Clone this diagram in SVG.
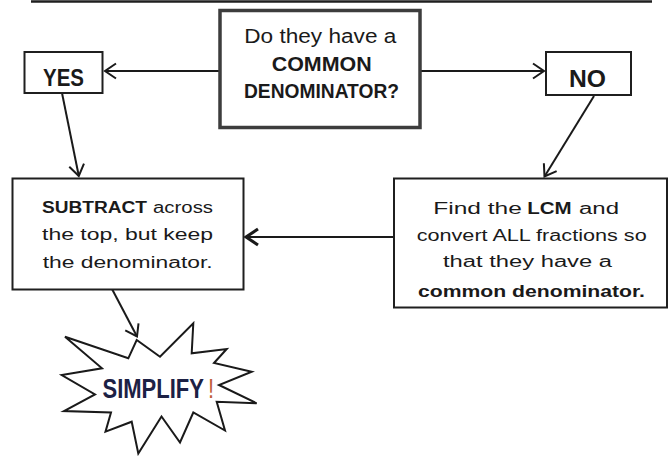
<svg xmlns="http://www.w3.org/2000/svg" width="670" height="456" viewBox="0 0 670 456">
<defs>
<style>
.box{fill:#fff;stroke:#1f1f1f;stroke-width:2}
.t{font-family:"Liberation Sans",Arial,sans-serif;fill:#1a1a1a;font-size:16px}
.b{font-weight:bold}
.c{font-size:20px}
.big{font-size:23px;font-weight:bold}
.conn{stroke:#1a1a1a;stroke-width:2;fill:none}
</style>
<marker id="ah" markerUnits="userSpaceOnUse" markerWidth="14" markerHeight="20" viewBox="-12 -10 14 20" refX="0" refY="0" orient="auto" overflow="visible">
<path d="M-11,-7.5 L0,0 L-11,7.5" fill="none" stroke="#1a1a1a" stroke-width="2"/>
</marker>
<marker id="ah2" markerUnits="userSpaceOnUse" markerWidth="16" markerHeight="22" viewBox="-14 -11 16 22" refX="0" refY="0" orient="auto" overflow="visible">
<path d="M-12,-8 L0,0 L-12,8" fill="none" stroke="#1a1a1a" stroke-width="3"/>
</marker>
</defs>
<rect width="670" height="456" fill="#fff"/>
<line x1="31" y1="1.5" x2="652" y2="1.5" stroke="#1f1f1f" stroke-width="2.5"/>

<g id="connectors">
<line class="conn" x1="220" y1="71" x2="105" y2="71" marker-end="url(#ah)"/>
<line class="conn" x1="420" y1="71" x2="544" y2="71" marker-end="url(#ah)"/>
<line class="conn" x1="62" y1="93" x2="78.8" y2="176" marker-end="url(#ah)"/>
<line class="conn" x1="594" y1="96" x2="544.5" y2="176.5" marker-end="url(#ah)"/>
<line class="conn" x1="393" y1="237" x2="246" y2="237" stroke-width="3" marker-end="url(#ah2)"/>
<line class="conn" x1="112" y1="289" x2="137" y2="336.5" marker-end="url(#ah)"/>
</g>

<g id="question">
<rect x="220" y="10.5" width="200" height="117" fill="#fff" stroke="#3d3d3d" stroke-width="3.5"/>
<text class="t c" x="244.3" y="43" textLength="152" lengthAdjust="spacingAndGlyphs">Do they have a</text>
<text class="t c b" x="271.7" y="71" textLength="100" lengthAdjust="spacingAndGlyphs">COMMON</text>
<text class="t c b" x="244" y="98" textLength="155" lengthAdjust="spacingAndGlyphs">DENOMINATOR?</text>
</g>

<g id="yes">
<rect class="box" x="24.5" y="52" width="78" height="41"/>
<text class="t big" x="43" y="86" textLength="41" lengthAdjust="spacingAndGlyphs">YES</text>
</g>

<g id="no">
<rect class="box" x="546" y="52" width="85" height="43"/>
<text class="t big" x="569" y="86.5" textLength="37" lengthAdjust="spacingAndGlyphs">NO</text>
</g>

<g id="subtract">
<rect class="box" x="12.5" y="178.5" width="231" height="111"/>
<text class="t b" x="42" y="212.7" textLength="105" lengthAdjust="spacingAndGlyphs">SUBTRACT</text>
<text class="t" x="153" y="212.7" textLength="60" lengthAdjust="spacingAndGlyphs">across</text>
<text class="t" x="42" y="240" textLength="171" lengthAdjust="spacingAndGlyphs">the top, but keep</text>
<text class="t" x="42.7" y="267.5" textLength="170" lengthAdjust="spacingAndGlyphs">the denominator.</text>
</g>

<g id="lcm">
<rect class="box" x="394" y="178.5" width="273" height="129"/>
<text class="t" x="433.3" y="214" textLength="88.5" lengthAdjust="spacingAndGlyphs">Find the</text>
<text class="t b" x="527.3" y="214" textLength="44.4" lengthAdjust="spacingAndGlyphs">LCM</text>
<text class="t" x="579" y="214" textLength="40" lengthAdjust="spacingAndGlyphs">and</text>
<text class="t" x="416.7" y="241" textLength="230" lengthAdjust="spacingAndGlyphs">convert ALL fractions so</text>
<text class="t" x="443" y="267.3" textLength="169" lengthAdjust="spacingAndGlyphs">that they have a</text>
<text class="t b" x="418" y="296.7" textLength="227" lengthAdjust="spacingAndGlyphs">common denominator.</text>
</g>

<g id="simplify">
<polygon points="65,336.7 128.3,358.3 136.7,340 160,356.7 193.3,323.3 191.7,353.3 226.7,349 214,363 251.7,371.7 219,385 256.7,403.3 216.7,401.7 225,430.5 193.3,412.5 180,442.5 161.5,416.5 138.3,453.5 131.7,421.7 105.5,431.7 111,412.5 64,411 95,394.5 61.7,375 102,368.3" fill="#fff" stroke="#1a1a1a" stroke-width="2" stroke-linejoin="miter"/>
<g transform="translate(102.5,397.7) scale(1,1.22)">
<text class="t b" x="0" y="0" style="font-size:22px;fill:#1c2145">SIMPLIFY</text>
<text class="t" x="105.5" y="0" style="font-size:22px;fill:#c0603c">!</text>
</g>
</g>
</svg>
